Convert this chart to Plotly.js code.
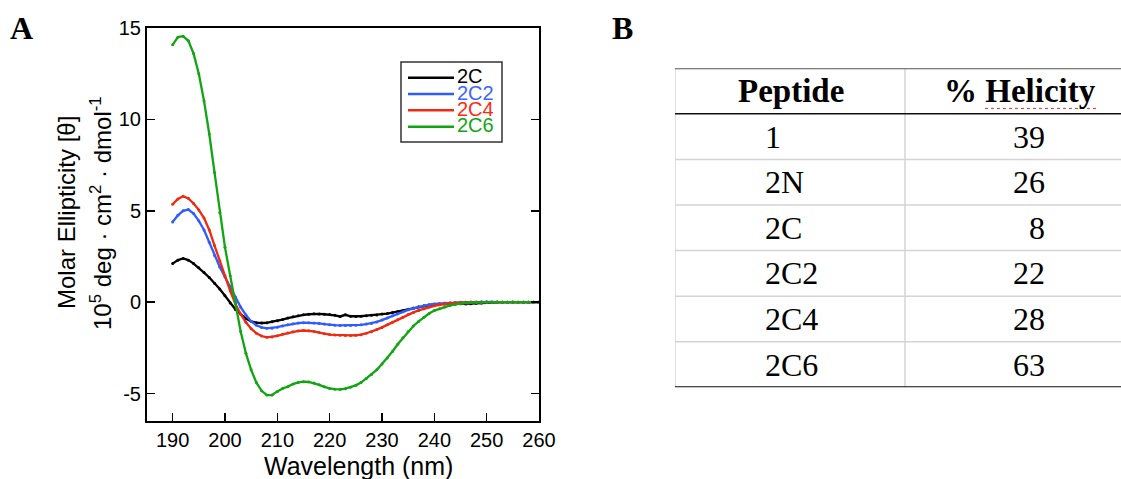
<!DOCTYPE html>
<html>
<head>
<meta charset="utf-8">
<script src="https://cdn.plot.ly/plotly-3.0.1.min.js"></script>
<style>html,body{margin:0;padding:0;background:#fff;}#chart{width:1121px;height:479px;}</style>
</head>
<body>
<div id="chart"></div>
<script>
// ---------- Data ----------
const wavelength = [190,191,192,193,194,195,196,197,198,199,200,201,202,203,204,205,206,207,208,209,
  210,211,212,213,214,215,216,217,218,219,220,221,222,223,224,225,226,227,228,229,
  230,231,232,233,234,235,236,237,238,239,240,241,242,243,244,245,246,247,248,249,
  250,251,252,253,254,255,256,257,258,259,260];

const series2C = [2.11,2.30,2.39,2.30,2.11,1.88,1.62,1.35,1.04,0.72,0.35,-0.05,-0.40,-0.65,-0.90,-1.05,-1.12,-1.14,-1.13,-1.07,
  -1.02,-0.95,-0.87,-0.80,-0.74,-0.69,-0.66,-0.63,-0.64,-0.66,-0.68,-0.72,-0.78,-0.69,-0.77,-0.78,-0.77,-0.74,-0.72,-0.70,
  -0.65,-0.62,-0.57,-0.51,-0.45,-0.38,-0.32,-0.25,-0.19,-0.16,-0.12,-0.10,-0.08,-0.07,-0.07,-0.08,-0.10,-0.08,-0.06,-0.04,
  -0.02,0.00,0.01,0.00,0.00,0.01,0.00,0.00,0.00,0.00,0.00];

const series2C2 = [4.39,4.75,5.00,5.07,4.85,4.45,3.95,3.28,2.55,1.93,1.38,0.84,0.28,-0.27,-0.70,-1.05,-1.26,-1.38,-1.43,-1.42,
  -1.37,-1.30,-1.24,-1.18,-1.14,-1.12,-1.12,-1.14,-1.16,-1.20,-1.24,-1.26,-1.27,-1.27,-1.27,-1.26,-1.24,-1.20,-1.16,-1.08,
  -0.98,-0.86,-0.74,-0.63,-0.52,-0.42,-0.34,-0.26,-0.20,-0.14,-0.10,-0.07,-0.05,-0.03,-0.02,-0.01,0.00,0.01,0.01,0.02,
  0.02,0.01,0.00,0.00,0.00,0.00,0.00,0.00,0.00,0.00,0.00];

const series2C4 = [5.36,5.65,5.80,5.68,5.40,5.05,4.60,3.95,3.10,2.25,1.45,0.62,-0.10,-0.65,-1.10,-1.45,-1.70,-1.85,-1.92,-1.90,
  -1.84,-1.76,-1.69,-1.62,-1.57,-1.55,-1.56,-1.60,-1.66,-1.72,-1.77,-1.79,-1.81,-1.82,-1.82,-1.81,-1.78,-1.70,-1.62,-1.50,
  -1.38,-1.24,-1.10,-0.96,-0.82,-0.68,-0.56,-0.45,-0.36,-0.27,-0.20,-0.14,-0.10,-0.06,-0.04,-0.02,0.00,0.00,0.00,0.00,
  0.00,0.00,0.00,0.00,0.00,0.00,0.00,0.00,0.00,0.00,0.00];

const series2C6 = [14.08,14.50,14.55,14.30,13.60,12.50,11.00,9.20,7.10,4.90,3.00,1.45,0.00,-1.60,-2.80,-3.70,-4.40,-4.85,-5.08,-5.08,
  -4.88,-4.72,-4.62,-4.48,-4.39,-4.35,-4.36,-4.42,-4.52,-4.63,-4.72,-4.76,-4.77,-4.73,-4.66,-4.55,-4.40,-4.18,-3.95,-3.70,
  -3.38,-3.05,-2.70,-2.30,-1.95,-1.60,-1.30,-1.05,-0.82,-0.62,-0.46,-0.36,-0.26,-0.18,-0.12,-0.07,-0.04,-0.02,0.00,0.00,
  0.00,0.00,0.00,0.00,0.00,0.00,0.00,0.00,0.00,0.00,0.00];

const seriesNames = ['2C', '2C2', '2C4', '2C6'];
const seriesValues = [series2C, series2C2, series2C4, series2C6];
const seriesColors = ['#000000', '#2f5cff', '#ee2a10', '#12a512'];
const legendTextColors = ['#000000', '#3a66ff', '#ff2a10', '#12a512'];

const xTicks = [190, 200, 210, 220, 230, 240, 250, 260];
const yTicks = [-5, 0, 5, 10, 15];
const yTickLabels = ['-5', '0', '5', '10', '15'];

const tableHeader = ['Peptide', '% Helicity'];
const peptides = ['1', '2N', '2C', '2C2', '2C4', '2C6'];
const helicity = [39, 26, 8, 22, 28, 63];

// ---------- Layout helpers (pixel -> paper) ----------
const W = 1121, H = 479;
const px = x => x / W;
const py = y => 1 - y / H;

const sans = 'Liberation Sans, Arial, Helvetica, sans-serif';
const serif = 'Liberation Serif, Times New Roman, serif';

// ---------- Traces ----------
const traces = seriesNames.map((name, i) => ({
  type: 'scatter',
  mode: 'lines+markers',
  name: name,
  x: wavelength,
  y: seriesValues[i],
  line: { color: seriesColors[i], width: 2.3 },
  marker: { color: seriesColors[i], size: 3 },
  xaxis: 'x', yaxis: 'y',
  showlegend: false,
  hoverinfo: 'skip'
}));

// ---------- Shapes & annotations ----------
const shapes = [];
const annotations = [];

// Custom legend for panel A
const legBox = { x0: 401, x1: 502, y0: 62, y1: 142 };
shapes.push({ type: 'rect', xref: 'paper', yref: 'paper',
  x0: px(legBox.x0), x1: px(legBox.x1), y0: py(legBox.y1), y1: py(legBox.y0),
  line: { color: '#333333', width: 1.5 }, fillcolor: 'rgba(0,0,0,0)' });
const legRowY = [77.7, 94, 110.3, 126.7];
seriesNames.forEach((name, i) => {
  shapes.push({ type: 'line', xref: 'paper', yref: 'paper',
    x0: px(408), x1: px(454), y0: py(legRowY[i]), y1: py(legRowY[i]),
    line: { color: seriesColors[i], width: 2.5 } });
  annotations.push({ xref: 'paper', yref: 'paper', x: px(455), y: py(legRowY[i] - 1.5),
    xanchor: 'left', yanchor: 'middle', showarrow: false, text: name,
    font: { family: sans, size: 20, color: legendTextColors[i] } });
});

// Axis titles for panel A
annotations.push({ xref: 'paper', yref: 'paper', x: px(358), y: py(466), xanchor: 'center', yanchor: 'middle',
  showarrow: false, text: 'Wavelength (nm)', font: { family: sans, size: 25, color: '#000' } });
annotations.push({ xref: 'paper', yref: 'paper', x: px(66), y: py(213), xanchor: 'center', yanchor: 'middle',
  showarrow: false, textangle: -90, text: 'Molar Ellipticity [θ]', font: { family: sans, size: 24, color: '#000' } });
annotations.push({ xref: 'paper', yref: 'paper', x: px(101), y: py(213), xanchor: 'center', yanchor: 'middle',
  showarrow: false, textangle: -90, text: '10<sup>5</sup> deg · cm<sup>2</sup> · dmol<sup>-1</sup>',
  font: { family: sans, size: 24, color: '#000' } });

// Panel letters
annotations.push({ xref: 'paper', yref: 'paper', x: px(21.5), y: py(28), xanchor: 'center', yanchor: 'middle',
  showarrow: false, text: '<b>A</b>', font: { family: serif, size: 32, color: '#000' } });
annotations.push({ xref: 'paper', yref: 'paper', x: px(622), y: py(28), xanchor: 'center', yanchor: 'middle',
  showarrow: false, text: '<b>B</b>', font: { family: serif, size: 32, color: '#000' } });

// ---------- Table (panel B) on hidden axes x2/y2 ----------
// x2: pixel offset from table left edge; y2: row index (0 = header)
const nRows = peptides.length + 1;
const colDivider = 230, tableRight = 446;
[0, colDivider].forEach(xv => shapes.push({ type: 'line', xref: 'x2', yref: 'y2',
  x0: xv, x1: xv, y0: -0.5, y1: nRows - 0.5, line: { color: '#d4d4d4', width: 1.5 } }));
for (let r = 1; r < nRows - 1; r++) {
  shapes.push({ type: 'line', xref: 'x2', yref: 'y2', x0: 0, x1: tableRight, y0: r + 0.5, y1: r + 0.5,
    line: { color: '#d4d4d4', width: 1.5 } });
}
shapes.push({ type: 'line', xref: 'x2', yref: 'y2', x0: 0, x1: tableRight, y0: -0.5, y1: -0.5,
  line: { color: '#555555', width: 2 } });
shapes.push({ type: 'line', xref: 'x2', yref: 'y2', x0: 0, x1: tableRight, y0: 0.5, y1: 0.5,
  line: { color: '#111111', width: 1.5 } });
shapes.push({ type: 'line', xref: 'x2', yref: 'y2', x0: 0, x1: tableRight, y0: nRows - 0.5, y1: nRows - 0.5,
  line: { color: '#111111', width: 2 } });
// spell-check underline under "Helicity"
shapes.push({ type: 'line', xref: 'x2', yref: 'y2', x0: 310, x1: 423, y0: 0.38, y1: 0.38,
  line: { color: '#e03030', width: 1, dash: 'dot' } });

annotations.push({ xref: 'x2', yref: 'y2', x: 116, y: 0, xanchor: 'center', yanchor: 'middle', showarrow: false,
  text: '<b>' + tableHeader[0] + '</b>', font: { family: serif, size: 33, color: '#000' } });
annotations.push({ xref: 'x2', yref: 'y2', x: 345, y: 0, xanchor: 'center', yanchor: 'middle', showarrow: false,
  text: '<b>' + tableHeader[1] + '</b>', font: { family: serif, size: 33, color: '#000' } });
peptides.forEach((p, i) => {
  annotations.push({ xref: 'x2', yref: 'y2', x: 87.5, y: i + 1, xanchor: 'left', yanchor: 'middle', showarrow: false,
    text: p, font: { family: serif, size: 32, color: '#000' } });
  annotations.push({ xref: 'x2', yref: 'y2', x: 372, y: i + 1, xanchor: 'right', yanchor: 'middle', showarrow: false,
    text: String(helicity[i]), font: { family: serif, size: 32, color: '#000' } });
});

// ---------- Layout ----------
const layout = {
  width: W, height: H,
  margin: { l: 0, r: 0, t: 0, b: 0, pad: 0 },
  paper_bgcolor: '#ffffff', plot_bgcolor: '#ffffff',
  showlegend: false,
  hovermode: false,
  xaxis: {
    domain: [px(147), px(539)],
    range: [185.1, 260],
    tickvals: xTicks,
    ticks: 'inside', ticklen: 8, tickwidth: 1.5, tickcolor: '#000',
    showline: true, linecolor: '#000', linewidth: 2, mirror: true,
    showgrid: false, zeroline: false,
    tickfont: { family: sans, size: 20, color: '#000' },
    fixedrange: true
  },
  yaxis: {
    domain: [py(421), py(28)],
    range: [-6.5, 15],
    tickvals: yTicks,
    ticktext: yTickLabels,
    ticks: 'inside', ticklen: 8, tickwidth: 1.5, tickcolor: '#000',
    showline: true, linecolor: '#000', linewidth: 2, mirror: 'ticks',
    showgrid: false, zeroline: false,
    tickfont: { family: sans, size: 20, color: '#000' },
    fixedrange: true
  },
  xaxis2: {
    domain: [px(675), 1], range: [0, tableRight], anchor: 'y2',
    visible: false, fixedrange: true
  },
  yaxis2: {
    domain: [py(387.3), py(68.3)], range: [nRows - 0.5, -0.5], anchor: 'x2',
    visible: false, fixedrange: true
  },
  shapes: shapes,
  annotations: annotations
};

Plotly.newPlot('chart', traces, layout, { staticPlot: true, displayModeBar: false });
</script>
</body>
</html>
